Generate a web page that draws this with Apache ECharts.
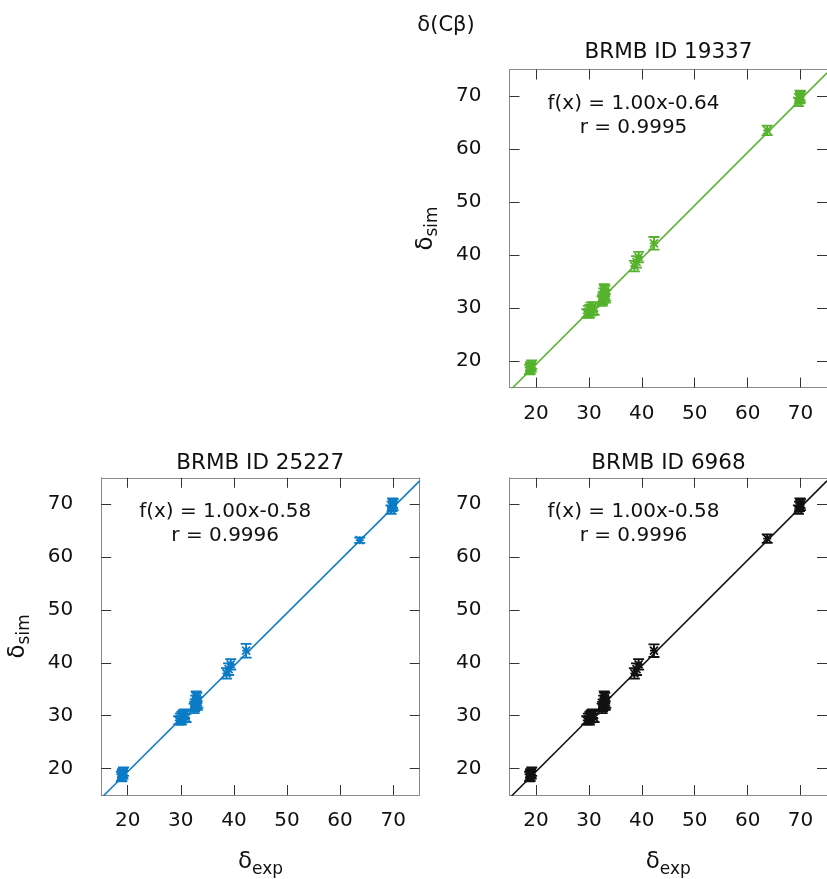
<!DOCTYPE html>
<html>
<head>
<meta charset="utf-8">
<script src="https://cdn.jsdelivr.net/npm/echarts@6/dist/echarts.min.js"></script>
<style>html,body{margin:0;padding:0;background:#fff}#c{width:827px;height:879px}</style>
</head>
<body>
<div id="c"></div>
<script>
// ---- data ----
const panelTitles = ['BRMB ID 19337', 'BRMB ID 25227', 'BRMB ID 6968'];
const panelColors = ['#56b22c', '#0b7bc6', '#111111'];
const fitSlope = [1.00, 1.00, 1.00];
const fitIntercept = [-0.64, -0.58, -0.58];
const fitR = ['0.9995', '0.9996', '0.9996'];
const axisTicks = [20, 30, 40, 50, 60, 70];

const expA = [18.8, 19.0, 19.1, 19.2, 18.9, 19.0, 29.6, 29.9, 30.1, 30.4, 30.7, 31.0, 30.2, 32.5, 32.7, 32.8, 33.0, 33.1, 32.9, 33.2, 32.6, 38.6, 39.0, 39.4, 42.3, 63.7, 69.6, 69.8, 69.9, 70.0];
const simA = [18.4, 19.0, 18.7, 19.3, 18.2, 18.9, 29.0, 29.3, 28.9, 29.8, 30.2, 29.5, 29.6, 31.3, 32.0, 32.6, 33.2, 31.8, 33.6, 32.4, 31.6, 37.9, 38.7, 39.6, 42.2, 63.5, 68.9, 69.5, 70.1, 69.8];
const errA = [0.9, 0.8, 0.7, 0.8, 0.6, 0.7, 0.8, 1.1, 0.7, 1.2, 0.9, 0.8, 1.0, 0.9, 1.0, 1.1, 1.0, 0.8, 0.9, 1.0, 0.9, 1.0, 1.1, 1.0, 1.2, 0.9, 0.8, 0.9, 0.9, 1.0];

const expB = [18.8, 19.0, 19.1, 19.2, 18.9, 19.0, 29.6, 29.9, 30.1, 30.4, 30.7, 31.0, 30.2, 32.5, 32.7, 32.8, 33.0, 33.1, 32.9, 33.2, 32.6, 38.6, 39.0, 39.4, 42.3, 63.7, 69.6, 69.8, 69.9, 70.0];
const simB = [18.5, 19.1, 18.8, 19.4, 18.3, 19.0, 29.1, 29.4, 29.0, 29.9, 30.3, 29.6, 29.7, 31.4, 32.1, 32.7, 33.3, 31.9, 33.7, 32.5, 31.7, 38.0, 38.8, 39.7, 42.3, 63.2, 69.0, 69.6, 70.2, 69.9];
const errB = [0.9, 0.8, 0.7, 0.8, 0.6, 0.7, 0.8, 1.0, 0.7, 1.1, 0.9, 0.8, 1.0, 0.9, 1.0, 1.1, 1.0, 0.8, 0.9, 1.0, 0.9, 1.0, 1.1, 1.0, 1.3, 0.5, 0.8, 0.9, 0.9, 1.0];

const expC = [18.8, 19.0, 19.1, 19.2, 18.9, 19.0, 29.6, 29.9, 30.1, 30.4, 30.7, 31.0, 30.2, 32.5, 32.7, 32.8, 33.0, 33.1, 32.9, 33.2, 32.6, 38.6, 39.0, 39.4, 42.3, 63.7, 69.6, 69.8, 69.9, 70.0];
const simC = [18.5, 19.1, 18.8, 19.4, 18.3, 19.0, 29.1, 29.4, 29.0, 29.9, 30.3, 29.6, 29.7, 31.4, 32.1, 32.7, 33.3, 31.9, 33.7, 32.5, 31.7, 38.0, 38.8, 39.7, 42.3, 63.5, 69.0, 69.6, 70.2, 69.9];
const errC = [0.9, 0.8, 0.7, 0.8, 0.6, 0.7, 0.8, 1.0, 0.7, 1.1, 0.9, 0.8, 1.0, 0.9, 1.0, 1.1, 1.0, 0.8, 0.9, 1.0, 0.9, 1.0, 1.1, 1.0, 1.2, 0.8, 0.8, 0.9, 0.9, 1.0];

const panelExp = [expA, expB, expC];
const panelSim = [simA, simB, simC];
const panelErr = [errA, errB, errC];

const axisMin = 15, axisMax = 75;

// ---- layout ----
const FONT = 'DejaVu Sans';
const grids = [
  {left: 509.5, top: 69.5, width: 318.5, height: 318},
  {left: 101.2, top: 477.8, width: 318.5, height: 318},
  {left: 509.5, top: 477.8, width: 318.5, height: 318}
];
const titleOffset = [-28, -25, -25];
const showYName = [true, true, false];
const showXName = [false, true, true];

const xAxes = [], yAxes = [], series = [], titles = [];

titles.push({text: 'δ(Cβ)', left: 446, top: 15, textAlign: 'center', padding: 0,
  textStyle: {fontFamily: FONT, fontSize: 21, fontWeight: 'normal', color: '#111'}});

const nameRich = {
  a: {fontFamily: FONT, fontSize: 23, color: '#111'},
  b: {fontFamily: FONT, fontSize: 17, color: '#111', verticalAlign: 'bottom', padding: [14, 0, 0, 0]}
};

grids.forEach((g, i) => {
  const baseAxis = {
    type: 'value', min: axisMin, max: axisMax, interval: 5,
    gridIndex: i,
    splitLine: {show: false},
    axisLine: {show: true, lineStyle: {color: '#8a8a8a', width: 1}},
    axisTick: {show: true, inside: true, length: 10, lineStyle: {color: '#333', width: 1},
      customValues: axisTicks},
    axisLabel: {show: true, fontFamily: FONT, fontSize: 20, color: '#111', margin: 16,
      customValues: axisTicks}
  };
  xAxes.push(Object.assign({}, baseAxis, {
    position: 'bottom',
    name: showXName[i] ? '{a|δ}{b|exp}' : '',
    nameLocation: 'middle', nameGap: 52,
    nameTextStyle: {rich: nameRich}
  }));
  xAxes.push(Object.assign({}, baseAxis, {position: 'top', axisLabel: {show: false}}));
  yAxes.push(Object.assign({}, baseAxis, {
    position: 'left',
    axisLabel: Object.assign({}, baseAxis.axisLabel, {margin: 28}),
    name: showYName[i] ? '{a|δ}{b|sim}' : '',
    nameLocation: 'middle', nameGap: 68,
    nameTextStyle: {rich: nameRich}
  }));
  yAxes.push(Object.assign({}, baseAxis, {position: 'right', axisLabel: {show: false}}));

  const color = panelColors[i];
  const pts = panelExp[i].map((x, k) => [x, panelSim[i][k], panelErr[i][k]]);

  // fit line
  series.push({
    type: 'line', xAxisIndex: 2 * i, yAxisIndex: 2 * i,
    data: [[axisMin, fitSlope[i] * axisMin + fitIntercept[i]], [axisMax, fitSlope[i] * axisMax + fitIntercept[i]]],
    showSymbol: false, symbol: 'none', clip: true, silent: true,
    lineStyle: {color: color, width: 1.5}, z: 2
  });

  // error bars + asterisk points
  series.push({
    type: 'custom', xAxisIndex: 2 * i, yAxisIndex: 2 * i, clip: true,
    data: pts,
    renderItem: function (params, api) {
      const x = api.value(0), y = api.value(1), e = api.value(2);
      const p = api.coord([x, y]);
      const lo = api.coord([x, y - e]);
      const hi = api.coord([x, y + e]);
      const cap = 5.5, s = 4;
      const st = {stroke: color, lineWidth: 1.8, fill: null};
      const line = (x1, y1, x2, y2) => ({type: 'line', shape: {x1, y1, x2, y2}, style: st});
      return {type: 'group', children: [
        line(p[0], lo[1], p[0], hi[1]),
        line(p[0] - cap, lo[1], p[0] + cap, lo[1]),
        line(p[0] - cap, hi[1], p[0] + cap, hi[1]),
        line(p[0] - s, p[1], p[0] + s, p[1]),
        line(p[0], p[1] - s, p[0], p[1] + s),
        line(p[0] - s, p[1] - s, p[0] + s, p[1] + s),
        line(p[0] - s, p[1] + s, p[0] + s, p[1] - s)
      ]};
    },
    z: 3
  });

  // panel title
  titles.push({text: panelTitles[i], left: g.left + 159, top: g.top + titleOffset[i], textAlign: 'center', padding: 0,
    textStyle: {fontFamily: FONT, fontSize: 21.5, fontWeight: 'normal', color: '#111'}});
  // fit annotation
  const ic = fitIntercept[i];
  const fitText = 'f(x) = ' + fitSlope[i].toFixed(2) + 'x' + (ic < 0 ? '-' : '+') + Math.abs(ic).toFixed(2);
  titles.push({text: fitText + '\nr = ' + fitR[i], left: g.left + 124, top: g.top + 22, textAlign: 'center', padding: 0,
    textStyle: {fontFamily: FONT, fontSize: 20, fontWeight: 'normal', color: '#111', lineHeight: 24, align: 'center'}});
});

const chart = echarts.init(document.getElementById('c'), null, {renderer: 'canvas'});
chart.setOption({
  animation: false,
  backgroundColor: '#fff',
  title: titles,
  grid: grids.map(g => Object.assign({containLabel: false}, g)),
  xAxis: xAxes,
  yAxis: yAxes,
  series: series
});
</script>
</body>
</html>
